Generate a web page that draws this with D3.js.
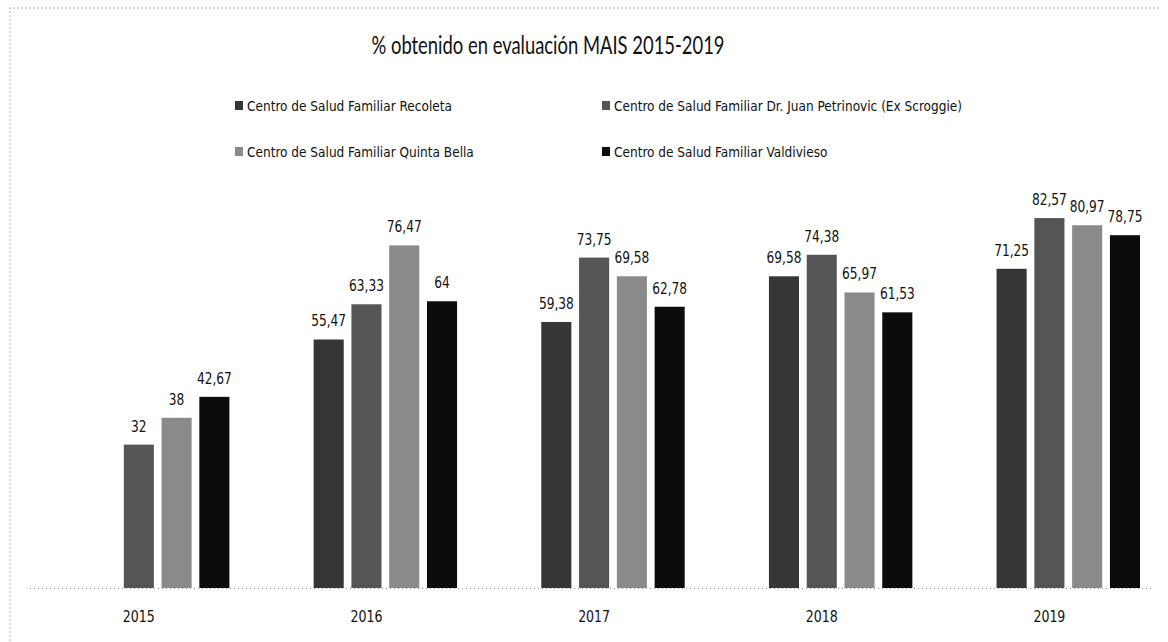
<!DOCTYPE html>
<html>
<head>
<meta charset="utf-8">
<script src="https://cdn.jsdelivr.net/npm/d3@7"></script>
<style>
  html, body { margin: 0; padding: 0; background: #fff; }
  svg { display: block; }
  .narrow { font-family: "Liberation Sans Narrow", "DejaVu Sans Condensed", "Arial Narrow", sans-serif; }
</style>
</head>
<body>
<svg id="chart" width="1168" height="642"></svg>
<script>
// ---- data ----
const title = "% obtenido en evaluación MAIS 2015-2019";
const years = ["2015", "2016", "2017", "2018", "2019"];
const series = [
  "Centro de Salud Familiar Recoleta",
  "Centro de Salud Familiar Dr. Juan Petrinovic (Ex Scroggie)",
  "Centro de Salud Familiar Quinta Bella",
  "Centro de Salud Familiar Valdivieso"
];
const recoleta    = [null, 55.47, 59.38, 69.58, 71.25];
const petrinovic  = [32,   63.33, 73.75, 74.38, 82.57];
const quintaBella = [38,   76.47, 69.58, 65.97, 80.97];
const valdivieso  = [42.67, 64,   62.78, 61.53, 78.75];
const seriesValues = [recoleta, petrinovic, quintaBella, valdivieso];
const colors = ["#363636", "#555555", "#8a8a8a", "#0c0c0c"];

// ---- layout ----
const svg = d3.select("#chart");
const baseY = 588;

const x0 = d3.scaleBand().domain(years).range([86, 1140]).paddingInner(0.37).paddingOuter(0);
const x1 = d3.scaleBand().domain(series).range([0, x0.bandwidth()]).paddingInner(0.204).paddingOuter(0);
const y = d3.scaleLinear().domain([0, 100]).range([baseY, 140]);

// condense text horizontally (source font is a narrow face)
function condense(sel, k) {
  sel.each(function() {
    const w = this.getComputedTextLength();
    d3.select(this).attr("textLength", w * k).attr("lengthAdjust", "spacingAndGlyphs");
  });
}

// frame (faint dotted, scanned look)
svg.append("path")
  .attr("d", `M10,641 L10,8 L1160,8`)
  .attr("fill", "none").attr("stroke", "#aaa").attr("stroke-width", 1)
  .attr("stroke-dasharray", "2,2");

// title
svg.append("text")
  .attr("x", 548).attr("y", 54)
  .attr("text-anchor", "middle")
  .attr("font-family", "Lato, 'Open Sans', sans-serif")
  .attr("font-size", 25)
  .attr("fill", "#111")
  .attr("textLength", 353).attr("lengthAdjust", "spacingAndGlyphs")
  .text(title);

// legend
const legendPos = [[235, 111], [602, 111], [235, 157], [602, 157]];
const leg = svg.append("g").attr("class", "narrow");
series.forEach((s, i) => {
  const g = leg.append("g").attr("transform", `translate(${legendPos[i][0]},${legendPos[i][1]})`);
  g.append("rect").attr("x", 0).attr("y", -10).attr("width", 8).attr("height", 9).attr("fill", colors[i]);
  g.append("text").attr("x", 12).attr("y", 0).attr("font-size", 14.5).attr("fill", "#111").text(s)
    .call(condense, 0.93);
});

// baseline dotted
svg.append("line")
  .attr("x1", 30).attr("x2", 1152).attr("y1", baseY + 0.5).attr("y2", baseY + 0.5)
  .attr("stroke", "#999").attr("stroke-width", 1).attr("stroke-dasharray", "1,3");

// bars
const fmt = v => String(v).replace(".", ",");
const groups = svg.append("g").selectAll("g").data(years).join("g")
  .attr("transform", d => `translate(${x0(d)},0)`);

groups.each(function(yr, yi) {
  const g = d3.select(this);
  const data = series.map((s, si) => ({ s, si, v: seriesValues[si][yi] })).filter(d => d.v != null);
  g.selectAll("rect").data(data).join("rect")
    .attr("x", d => x1(d.s)).attr("width", x1.bandwidth())
    .attr("y", d => y(d.v)).attr("height", d => baseY - y(d.v))
    .attr("fill", d => colors[d.si]);
  g.selectAll("text").data(data).join("text")
    .attr("class", "narrow")
    .attr("x", d => x1(d.s) + x1.bandwidth() / 2)
    .attr("y", d => y(d.v) - 13)
    .attr("text-anchor", "middle")
    .attr("font-size", 16.5)
    .attr("fill", "#111")
    .text(d => fmt(d.v))
    .call(condense, 0.82);
});

// category labels (centered under the second bar slot, as in the source)
svg.append("g").selectAll("text").data(years).join("text")
  .attr("class", "narrow")
  .attr("x", d => x0(d) + x1(series[1]) + x1.bandwidth() / 2)
  .attr("y", 622)
  .attr("text-anchor", "middle")
  .attr("font-size", 15.5)
  .attr("fill", "#111")
  .text(d => d)
  .call(condense, 0.9);
</script>
</body>
</html>
